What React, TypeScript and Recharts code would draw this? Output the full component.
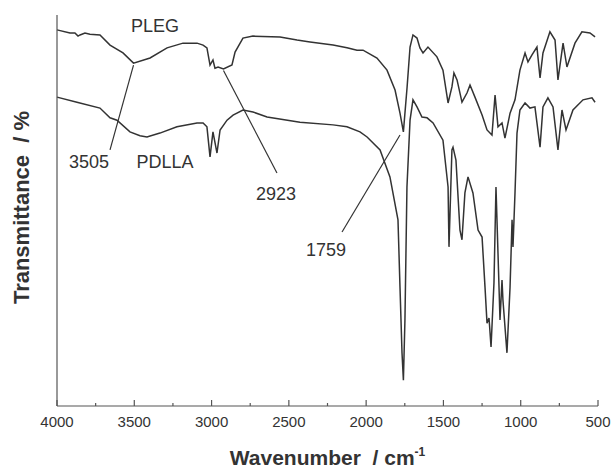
import React from 'react';
import {
  LineChart,
  Line,
  XAxis,
  YAxis,
  ReferenceLine,
  ReferenceDot,
} from 'recharts';

// ---------------------------------------------------------------------------
// data
// ---------------------------------------------------------------------------

const plegWavenumber = [
  4000, 3916, 3884, 3864, 3851, 3819, 3787, 3722, 3657, 3573, 3505, 3398, 3288,
  3185, 3094, 3055, 3030, 3010, 2991, 2978, 2958, 2923, 2868, 2848, 2797, 2732,
  2557, 2447, 2363, 2214, 2124, 2059, 2020, 1930, 1865, 1813, 1781, 1759, 1735,
  1716, 1697, 1671, 1652, 1632, 1600, 1542, 1503, 1470, 1445, 1432, 1412, 1380,
  1347, 1328, 1296, 1250, 1218, 1186, 1166, 1147, 1121, 1102, 1069, 1037, 1005,
  972, 953, 927, 895, 875, 856, 811, 778, 759, 726, 701, 649, 604, 552, 519,
];
const plegTransmittance = [
  96.2, 95.4, 95.4, 94.6, 94.9, 95.4, 95.1, 94.9, 92.3, 90.3, 87.7, 89.0, 91.6,
  92.8, 92.8, 92.3, 91.6, 87.2, 88.5, 86.4, 86.7, 86.2, 87.2, 90.5, 94.1, 94.6,
  94.4, 93.6, 93.1, 92.3, 91.6, 91.0, 91.0, 89.0, 85.9, 80.8, 74.9, 70.1, 81.6,
  91.8, 94.9, 94.1, 91.6, 90.3, 91.8, 89.3, 85.9, 77.5, 81.6, 85.2, 83.4, 77.7,
  80.1, 82.1, 79.0, 74.4, 70.6, 69.3, 79.5, 71.4, 72.4, 68.5, 74.9, 78.3, 85.9,
  90.3, 88.0, 89.8, 91.8, 83.9, 90.3, 95.7, 93.6, 83.4, 92.8, 86.7, 92.8, 95.7,
  95.4, 94.4,
];

const pdllaWavenumber = [
  4000, 3871, 3722, 3657, 3612, 3528, 3463, 3418, 3334, 3224, 3094, 3055, 3030,
  3010, 2991, 2965, 2945, 2900, 2861, 2797, 2732, 2641, 2428, 2214, 2124, 2040,
  1994, 1910, 1846, 1794, 1781, 1768, 1759, 1749, 1736, 1716, 1697, 1671, 1639,
  1606, 1567, 1503, 1470, 1464, 1445, 1438, 1419, 1393, 1380, 1361, 1341, 1309,
  1276, 1250, 1231, 1218, 1205, 1192, 1173, 1160, 1147, 1134, 1121, 1115, 1089,
  1069, 1056, 1050, 1037, 1024, 1005, 972, 940, 908, 875, 856, 824, 791, 759,
  733, 707, 662, 597, 539, 519,
];
const pdllaTransmittance = [
  79.0, 77.7, 76.2, 73.7, 73.1, 70.1, 69.1, 68.8, 69.8, 71.4, 72.4, 72.4, 71.4,
  63.7, 70.1, 64.7, 70.6, 73.1, 74.4, 75.7, 75.2, 73.9, 72.6, 71.9, 71.4, 70.1,
  68.8, 65.5, 58.6, 47.6, 30.4, 13.6, 6.6, 22.0, 56.0, 73.1, 78.3, 76.5, 73.9,
  73.7, 72.4, 68.0, 56.0, 40.7, 65.5, 66.2, 62.9, 45.0, 42.5, 54.5, 58.6, 54.5,
  45.0, 43.2, 30.4, 21.2, 22.5, 15.1, 31.5, 56.0, 39.1, 22.0, 32.2, 27.1, 13.6,
  30.4, 47.6, 40.7, 54.5, 69.8, 75.7, 77.5, 76.2, 76.5, 66.2, 76.5, 78.8, 76.5,
  65.5, 75.7, 70.6, 75.7, 78.3, 78.8, 77.7,
];

const xTicks = [
  4000, 3750, 3500, 3250, 3000, 2750, 2500, 2250, 2000, 1750, 1500, 1250, 1000,
  750, 500,
];

// annotation texts and the band each one points to
const peakLabels = ['3505', '2923', '1759'];
const seriesNames = ['PLEG', 'PDLLA'];

const plegData = plegWavenumber.map((wn, i) => ({ wn, t: plegTransmittance[i] }));
const pdllaData = pdllaWavenumber.map((wn, i) => ({ wn, t: pdllaTransmittance[i] }));

const INK = '#333';

function WaveTick(props: any) {
  const { x, y, payload } = props;
  const major = payload.value % 500 === 0;
  return (
    <g>
      <line x1={x} x2={x} y1={y} y2={y - (major ? 6 : 3)} stroke="#555" strokeWidth={1.2} />
      {major && (
        <text x={x} y={y + 21} textAnchor="middle" fontSize={15} fill={INK}>
          {payload.value}
        </text>
      )}
    </g>
  );
}

function XTitle(props: any) {
  const { viewBox } = props;
  const cx = viewBox.x + viewBox.width / 2;
  return (
    <text x={cx} y={viewBox.y + 59} textAnchor="middle" fontSize={21} fontWeight="bold" fill={INK}>
      Wavenumber {'\u00a0'}/ cm
      <tspan dy={-9} fontSize={12}>-1</tspan>
    </text>
  );
}

function YTitle(props: any) {
  const { viewBox } = props;
  const cy = viewBox.y + viewBox.height / 2 - 3;
  const cx = 21;
  return (
    <text
      x={cx}
      y={cy}
      textAnchor="middle"
      dominantBaseline="central"
      fontSize={22}
      fontWeight="bold"
      fill={INK}
      transform={`rotate(-90 ${cx} ${cy})`}
    >
      Transmittance {'\u00a0'}/ %
    </text>
  );
}

export default function App() {
  const textLabel = (value: string) => ({
    value,
    position: 'center' as const,
    fontSize: 18,
    fill: INK,
  });

  return (
    <div
      style={{
        fontFamily: '"Liberation Sans", Arial, sans-serif',
        position: 'fixed',
        top: 0,
        left: 0,
        width: 613,
        height: 468,
        background: '#fff',
      }}
    >
      <LineChart
        width={613}
        height={468}
        margin={{ top: 15, right: 15, left: 17, bottom: 32 }}
      >
        <XAxis
          dataKey="wn"
          type="number"
          domain={[500, 4000]}
          reversed
          ticks={xTicks}
          interval={0}
          height={30}
          tickSize={0}
          tickMargin={0}
          tickLine={false}
          tick={<WaveTick />}
          axisLine={{ stroke: '#555', strokeWidth: 1.2 }}
          label={<XTitle />}
        />
        <YAxis
          type="number"
          domain={[0, 100]}
          width={40}
          tick={false}
          tickLine={false}
          axisLine={{ stroke: '#555', strokeWidth: 1.2 }}
          label={<YTitle />}
        />

        {/* leader lines to the marked bands */}
        <ReferenceLine segment={[{ x: 3657, y: 65.5 }, { x: 3505, y: 87.2 }]} stroke={INK} strokeWidth={1.2} />
        <ReferenceLine segment={[{ x: 2923, y: 85.8 }, { x: 2577, y: 59.6 }]} stroke={INK} strokeWidth={1.2} />
        <ReferenceLine segment={[{ x: 2156, y: 44.5 }, { x: 1781, y: 69.3 }]} stroke={INK} strokeWidth={1.2} />

        <Line
          data={plegData}
          dataKey="t"
          name={seriesNames[0]}
          type="linear"
          dot={false}
          stroke={INK}
          strokeWidth={1.5}
          isAnimationActive={false}
        />
        <Line
          data={pdllaData}
          dataKey="t"
          name={seriesNames[1]}
          type="linear"
          dot={false}
          stroke={INK}
          strokeWidth={1.5}
          isAnimationActive={false}
        />

        <ReferenceDot x={3366} y={97.4} r={0} stroke="none" fill="none" label={textLabel(seriesNames[0])} />
        <ReferenceDot x={3301} y={62.4} r={0} stroke="none" fill="none" label={textLabel(seriesNames[1])} />
        <ReferenceDot x={3793} y={62.4} r={0} stroke="none" fill="none" label={textLabel(peakLabels[0])} />
        <ReferenceDot x={2583} y={54.2} r={0} stroke="none" fill="none" label={textLabel(peakLabels[1])} />
        <ReferenceDot x={2260} y={39.9} r={0} stroke="none" fill="none" label={textLabel(peakLabels[2])} />
      </LineChart>
    </div>
  );
}
